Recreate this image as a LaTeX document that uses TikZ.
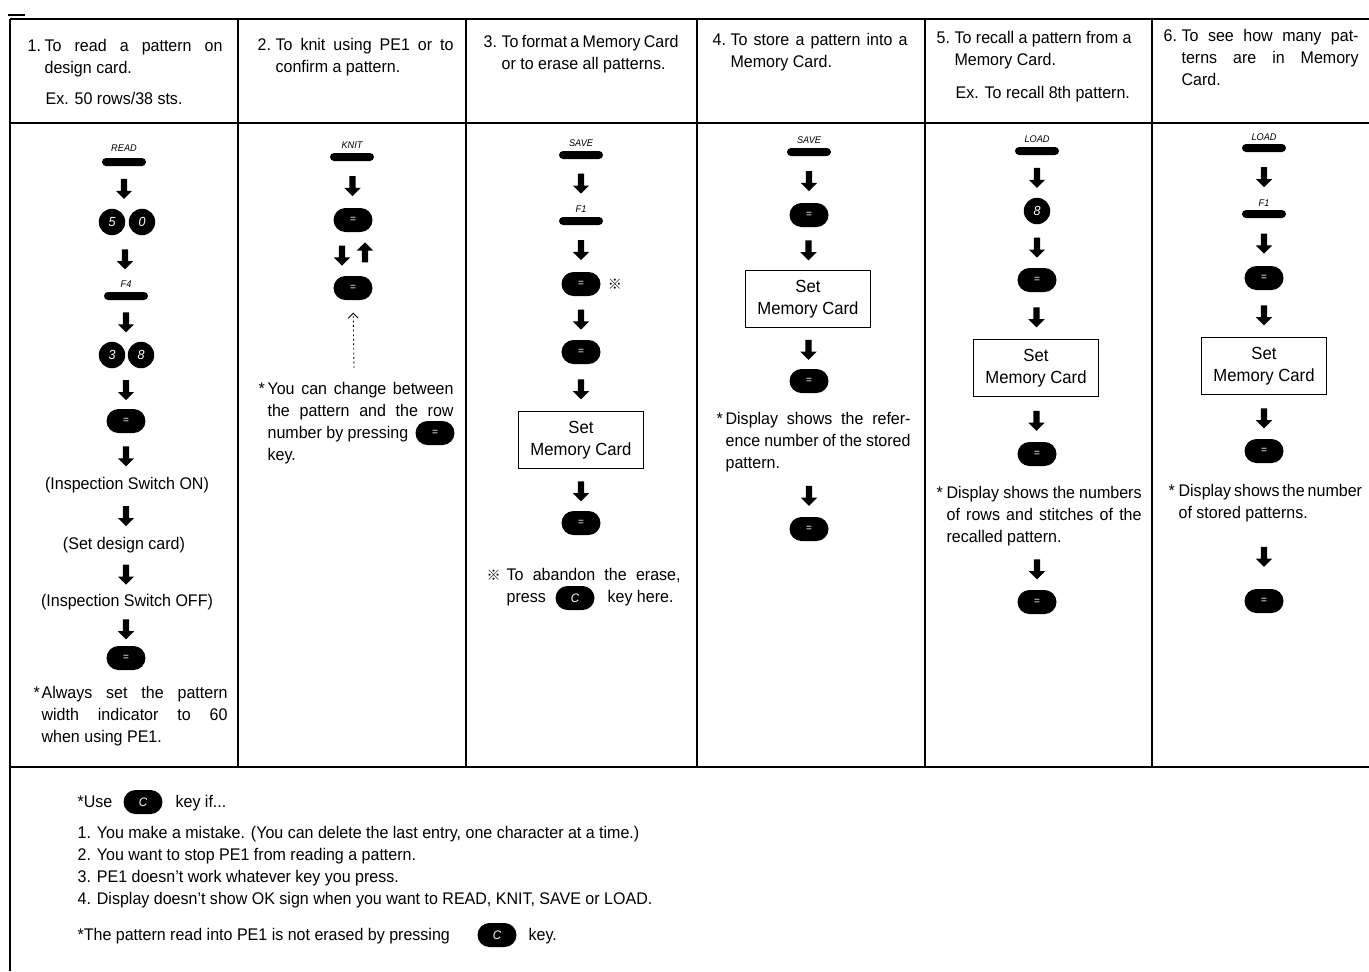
\documentclass[tikz,border=0pt]{standalone}
\usepackage{fontspec}
\setmainfont{Liberation Sans}[FakeStretch=0.95]
\newfontfamily\cjk{Noto Sans CJK JP}
\usetikzlibrary{shapes.misc,shapes.arrows,arrows.meta,positioning}

\newcommand{\bodyfont}{\fontsize{9.6}{12.5}\selectfont}
\newcommand{\just}[2]{\makebox[#1][s]{#2}}

\begin{document}
\begin{tikzpicture}[x=0.02cm,y=-0.02cm,line width=0.7pt,
  every node/.style={inner sep=0pt},
  txt/.style={anchor=base west,align=left,font=\bodyfont},
  mid/.style={anchor=base,font=\bodyfont},
  barkey/.style={rounded rectangle,fill=black,minimum width=0.88cm,minimum height=0.16cm},
  keytag/.style={anchor=base,font=\fontsize{5.5}{6}\selectfont\itshape},
  numkey/.style={circle,fill=black,minimum size=0.53cm,text=white,font=\fontsize{7.5}{8}\selectfont\itshape},
  eqkey/.style={rounded rectangle,fill=black,minimum width=0.78cm,minimum height=0.48cm,text=white,font=\fontsize{6}{6}\selectfont},
  card/.style={draw,line width=0.6pt,minimum width=2.5cm,minimum height=1.14cm,align=center,font=\fontsize{10}{12.5}\selectfont},
  refmark/.style={font=\cjk\fontsize{8}{8}\selectfont},
  dn/.style={single arrow,fill=black,rotate=-90,inner ysep=0.05cm,minimum height=0.4cm,single arrow head extend=0.1cm},
  up/.style={single arrow,fill=black,rotate=90,inner ysep=0.05cm,minimum height=0.4cm,single arrow head extend=0.1cm}]
\useasboundingbox (0,0) rectangle (1369,971);

% table rules
\draw (8,15) -- (25,15);
\draw (10,19) -- (1369,19);
\draw (10,123) -- (1369,123);
\draw (10,767) -- (1369,767);
\draw (10,19) -- (10,971);
\draw (238,19) -- (238,767);
\draw (466,19) -- (466,767);
\draw (697,19) -- (697,767);
\draw (925,19) -- (925,767);
\draw (1152,19) -- (1152,767);

% headings (base anchor sits on the last line)
\node[txt] (h1) at (27,73) {\makebox[0.34cm][l]{1.}\just{3.56cm}{To read a pattern on}\\ \hspace*{0.34cm}design card.};
\node[txt] (ex1) at (45,104) {Ex. 50 rows/38 sts.};
\node[txt] (h2) at (257,72) {\makebox[0.36cm][l]{2.}\just{3.56cm}{To knit using PE1 or to}\\ \hspace*{0.36cm}confirm a pattern.};
\node[txt] (h3) at (483,69) {\makebox[0.36cm][l]{3.}\just{3.54cm}{To format a Memory Card}\\ \hspace*{0.36cm}or to erase all patterns.};
\node[txt] (h4) at (712,67) {\makebox[0.36cm][l]{4.}\just{3.54cm}{To store a pattern into a}\\ \hspace*{0.36cm}Memory Card.};
\node[txt] (h5) at (936,65) {\makebox[0.36cm][l]{5.}\just{3.54cm}{To recall a pattern from a}\\ \hspace*{0.36cm}Memory Card.};
\node[txt] (ex5) at (955,98) {Ex. To recall 8th pattern.};
\node[txt] (h6) at (1163,85) {\makebox[0.36cm][l]{6.}\just{3.54cm}{To see how many pat-}\\ \hspace*{0.36cm}\just{3.54cm}{terns are in Memory}\\ \hspace*{0.36cm}Card.};

% first column
\node[keytag] (readt) at (124,151) {READ};
\node[barkey] (read) at (124,162) {};
\node[numkey] (k5) at (112,222) {5};
\node[numkey] (k0) at (142,222) {0};
\node[keytag] (f4t) at (126,287) {F4};
\node[barkey] (f4) at (126,296) {};
\node[numkey] (k3) at (112,355) {3};
\node[numkey] (k8) at (141,355) {8};
\node[eqkey] (e1) at (126,421) {=};
\node[mid] (insp1) at (127,489) {(Inspection Switch ON)};
\node[mid] (dsg) at (124,549) {(Set design card)};
\node[mid] (insp2) at (127,606) {(Inspection Switch OFF)};
\node[eqkey] (e2) at (126,658) {=};
\node[txt] (n1) at (33,742) {\makebox[0.16cm][l]{*}\just{3.72cm}{Always set the pattern}\\
  \hspace*{0.16cm}\just{3.72cm}{width indicator to 60}\\ \hspace*{0.16cm}when using PE1.};
\path (read.south) -- node[dn,midway] (a11) {} (read.south |- k5.north);
\path (read.south |- k5.south) -- node[dn,midway] (a12) {} (f4t.north);
\path (f4.south) -- node[dn,midway] (a13) {} (f4.south |- k3.north);
\path (e1.north |- k3.south) -- node[dn,midway] (a14) {} (e1.north);
\path (e1.south) -- node[dn,midway] (a15) {} (e1.south |- insp1.north);
\path (e1.south |- insp1.south) -- node[dn,midway] (a16) {} (e1.south |- dsg.north);
\path (e1.south |- dsg.south) -- node[dn,midway] (a17) {} (e1.south |- insp2.north);
\path (e2.north |- insp2.south) -- node[dn,midway] (a18) {} (e2.north);

% second column
\node[keytag] (knitt) at (352,148) {KNIT};
\node[barkey] (knit) at (352,157) {};
\node[eqkey] (e3) at (353,220) {=};
\node[eqkey] (e4) at (353,288) {=};
\coordinate (dots) at (354,368);
\node[txt] (n2) at (258,460) {\makebox[0.18cm][l]{*}\just{3.72cm}{You can change between}\\
  \hspace*{0.18cm}\just{3.72cm}{the pattern and the row}\\ \hspace*{0.18cm}number by pressing\\ \hspace*{0.18cm}key.};
\node[eqkey] (e5) at (435,433) {=};
\path (knit.south) -- node[dn,midway] (a21) {} (e3.north);
\path ([xshift=-0.22cm]e3.south) -- node[dn,midway] (a22) {} ([xshift=-0.22cm]e4.north);
\path ([xshift=0.24cm]e4.north) -- node[up,midway] (a23) {} ([xshift=0.24cm]e3.south);
\draw[line width=0.5pt,dash pattern=on 1pt off 1.6pt,-{Straight Barb[length=0.1cm,width=0.2cm]},shorten >=0.24cm] (dots) -- (e4.south);

% third column
\node[keytag] (savet) at (581,146) {SAVE};
\node[barkey] (save) at (581,155) {};
\node[keytag] (f1t) at (581,212) {F1};
\node[barkey] (f1) at (581,221) {};
\node[eqkey] (e6) at (581,284) {=};
\node[refmark] (m1) at (615,284) {※};
\node[eqkey] (e7) at (581,352) {=};
\node[card] (c3) at (581,440) {Set\\Memory Card};
\node[eqkey] (e8) at (581,523) {=};
\node[txt] (n3) at (486,580) {\makebox[0.4cm][l]{\cjk\fontsize{8}{8}\selectfont ※}\just{3.48cm}{To abandon the erase,}};
\node[txt] (n3a) at (506,602) {press};
\node[eqkey,font=\fontsize{7}{7}\selectfont\itshape] (c1) at (575,598) {C};
\node[txt] (n3b) at (607,602) {key here.};
\path (save.south) -- node[dn,midway] (a31) {} (f1t.north);
\path (f1.south) -- node[dn,midway] (a32) {} (e6.north);
\path (e6.south) -- node[dn,midway] (a33) {} (e7.north);
\path (e7.south) -- node[dn,midway] (a34) {} (c3.north);
\path (c3.south) -- node[dn,midway] (a35) {} (e8.north);

% fourth column
\node[keytag] (save2t) at (809,143) {SAVE};
\node[barkey] (save2) at (809,152) {};
\node[eqkey] (e9) at (809,215) {=};
\node[card] (c4) at (808,299) {Set\\Memory Card};
\node[eqkey] (e10) at (809,381) {=};
\node[txt] (n4) at (716,468) {\makebox[0.18cm][l]{*}\just{3.7cm}{Display shows the refer-}\\
  \hspace*{0.18cm}\just{3.7cm}{ence number of the stored}\\ \hspace*{0.18cm}pattern.};
\node[eqkey] (e11) at (809,529) {=};
\path (save2.south) -- node[dn,midway] (a41) {} (e9.north);
\path (e9.south) -- node[dn,midway] (a42) {} (c4.north);
\path (c4.south) -- node[dn,midway] (a43) {} (e10.north);
\path (e11.north |- n4.south) -- node[dn,midway] (a44) {} (e11.north);

% fifth column
\node[keytag] (loadt) at (1037,142) {LOAD};
\node[barkey] (load) at (1037,151) {};
\node[numkey] (k8b) at (1037,211) {8};
\node[eqkey] (e12) at (1037,280) {=};
\node[card] (c5) at (1036,368) {Set\\Memory Card};
\node[eqkey] (e13) at (1037,454) {=};
\node[txt] (n5) at (936,542) {\makebox[0.2cm][l]{*}\just{3.9cm}{Display shows the numbers}\\
  \hspace*{0.2cm}\just{3.9cm}{of rows and stitches of the}\\ \hspace*{0.2cm}recalled pattern.};
\node[eqkey] (e14) at (1037,602) {=};
\path (load.south) -- node[dn,midway] (a51) {} (k8b.north);
\path (k8b.south) -- node[dn,midway] (a52) {} (e12.north);
\path (e12.south) -- node[dn,midway] (a53) {} (c5.north);
\path (c5.south) -- node[dn,midway] (a54) {} (e13.north);
\path (e14.north |- n5.south) -- node[dn,midway] (a55) {} (e14.north);

% sixth column
\node[keytag] (load2t) at (1264,140) {LOAD};
\node[barkey] (load2) at (1264,148) {};
\node[keytag] (f1bt) at (1264,206) {F1};
\node[barkey] (f1b) at (1264,214) {};
\node[eqkey] (e15) at (1264,278) {=};
\node[card] (c6) at (1264,366) {Set\\Memory Card};
\node[eqkey] (e16) at (1264,451) {=};
\node[txt] (n6) at (1168,518) {\makebox[0.2cm][l]{*}\just{3.66cm}{Display shows the number}\\
  \hspace*{0.2cm}of stored patterns.};
\node[eqkey] (e17) at (1264,601) {=};
\path (load2.south) -- node[dn,midway] (a61) {} (f1bt.north);
\path (f1b.south) -- node[dn,midway] (a62) {} (e15.north);
\path (e15.south) -- node[dn,midway] (a63) {} (c6.north);
\path (c6.south) -- node[dn,midway] (a64) {} (e16.north);
\path (e17.north |- n6.south) -- node[dn,midway] (a65) {} (e17.north);

% notes under the table
\node[txt] (use) at (77,807) {*Use};
\node[eqkey,font=\fontsize{7}{7}\selectfont\itshape] (c2) at (143,802) {C};
\node[txt] (use2) at (175,807) {key if...};
\node[txt] (list) at (77,904) {1. You make a mistake. (You can delete the last entry, one character at a time.)\\
  2. You want to stop PE1 from reading a pattern.\\
  3. PE1 doesn't work whatever key you press.\\
  4. Display doesn't show OK sign when you want to READ, KNIT, SAVE or LOAD.};
\node[txt] (last) at (77,940) {*The pattern read into PE1 is not erased by pressing};
\node[eqkey,font=\fontsize{7}{7}\selectfont\itshape] (c3k) at (497,935) {C};
\node[txt] (last2) at (528,940) {key.};
\end{tikzpicture}
\end{document}
